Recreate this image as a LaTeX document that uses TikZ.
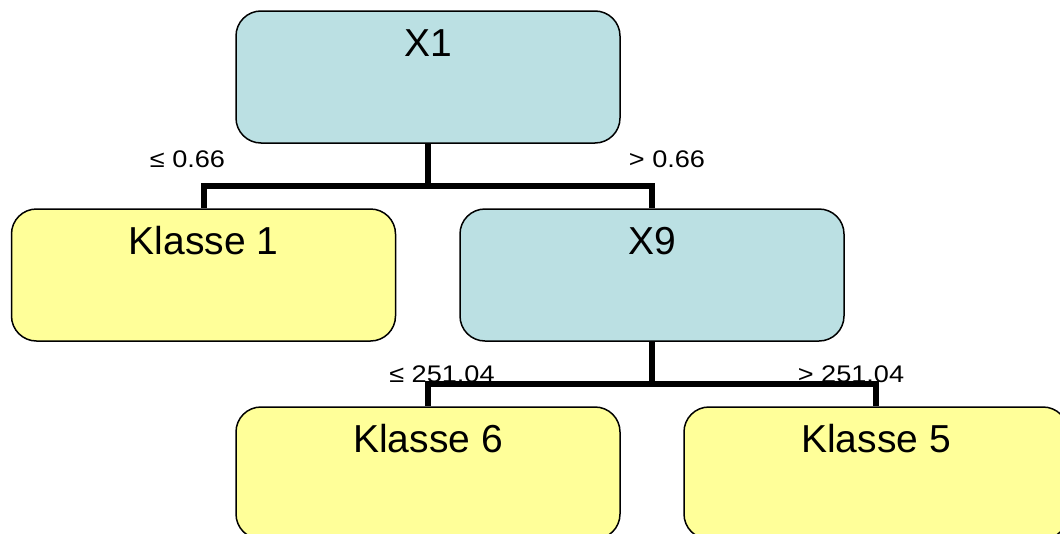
\documentclass[tikz,border=0pt]{standalone}
\usepackage{fontspec}
\usepackage{graphicx}
\setmainfont{Liberation Sans}
\definecolor{nodeblue}{HTML}{BBE0E3}
\definecolor{leafyellow}{HTML}{FFFF99}
\newcommand{\condtext}[1]{\scalebox{1.13}[1]{#1}}
\begin{document}
\begin{tikzpicture}[x=1pt,y=-1pt,
  box/.style={draw=black, line width=1.5pt, rounded corners=25pt, minimum width=384pt, minimum height=132pt, inner sep=0pt},
  inner/.style={box, fill=nodeblue},
  leaf/.style={box, fill=leafyellow},
  title/.style={font=\fontsize{39}{39}\selectfont},
  cond/.style={font=\fontsize{24}{24}\selectfont, inner sep=0pt, anchor=base},
  branch/.style={line width=6pt, draw=black}]
\useasboundingbox (0,0) rectangle (1060,533);
\clip (0,0) rectangle (1060,533);
\node[inner] (x1) at (428,77) {};
\node[leaf] (k1) at (203.5,275) {};
\node[inner] (x9) at (652,275) {};
\node[leaf] (k6) at (428,473) {};
\node[leaf] (k5) at (876,473) {};
\foreach \n/\t in {x1/X1,k1/Klasse 1,x9/X9,k6/Klasse 6,k5/Klasse 5}
  \node[title, anchor=base] (\n t) at ([yshift=-46pt]\n.north) {\t};
\node[cond] (l1) at (187.5,167) {\condtext{≤ 0.66}};
\node[cond] (l2) at (667,167) {\condtext{> 0.66}};
\node[cond] (l3) at (442,382) {\condtext{≤ 251.04}};
\node[cond] (l4) at (851,382) {\condtext{> 251.04}};
\draw[branch] (x1.south) -- ++(0,42) -| (k1.north);
\draw[branch] (x1.south) -- ++(0,42) -| (x9.north);
\draw[branch] (x9.south) -- ++(0,42) -| (k6.north);
\draw[branch] (x9.south) -- ++(0,42) -| (k5.north);
\end{tikzpicture}
\end{document}
